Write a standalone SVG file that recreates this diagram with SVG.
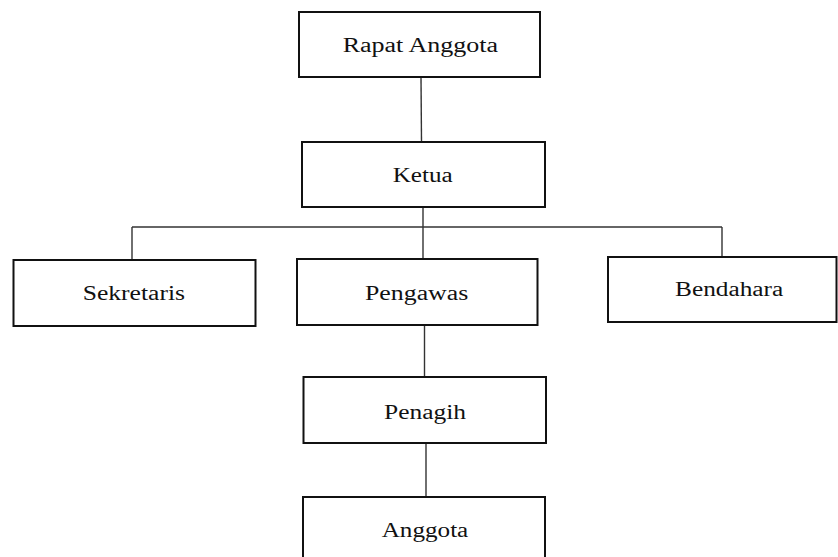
<svg xmlns="http://www.w3.org/2000/svg" width="838" height="557" viewBox="0 0 838 557">
<style>
.box{fill:#fff;stroke:#111;stroke-width:2}
.lbl{font-family:"Liberation Serif","Times New Roman",serif;font-size:20.5px;fill:#111;text-anchor:start}
.conn line{stroke:#333;stroke-width:1.4}
</style>
<rect width="838" height="557" fill="#fff"/>
<g id="connectors" class="conn">
<line x1="421" y1="77" x2="421.5" y2="142"/>
<line x1="423" y1="207" x2="423" y2="227"/>
<line x1="132" y1="227" x2="722" y2="227"/>
<line x1="132" y1="227" x2="132" y2="260"/>
<line x1="423" y1="227" x2="423" y2="259"/>
<line x1="722" y1="227" x2="722" y2="257"/>
<line x1="424.5" y1="325" x2="424.5" y2="377"/>
<line x1="426" y1="443" x2="426" y2="497"/>
</g>
<g id="rapat">
<rect class="box" x="299" y="12" width="241" height="65"/>
<text class="lbl" x="342.7" y="52" textLength="155.3" lengthAdjust="spacingAndGlyphs">Rapat Anggota</text>
</g>
<g id="ketua">
<rect class="box" x="302" y="142" width="243" height="65"/>
<text class="lbl" x="392.7" y="181.7" textLength="60" lengthAdjust="spacingAndGlyphs">Ketua</text>
</g>
<g id="sekretaris">
<rect class="box" x="13.5" y="260" width="242" height="66"/>
<text class="lbl" x="82.7" y="300" textLength="102.3" lengthAdjust="spacingAndGlyphs">Sekretaris</text>
</g>
<g id="pengawas">
<rect class="box" x="297" y="259" width="240.5" height="66"/>
<text class="lbl" x="365" y="300" textLength="103.3" lengthAdjust="spacingAndGlyphs">Pengawas</text>
</g>
<g id="bendahara">
<rect class="box" x="608" y="257" width="228.5" height="65"/>
<text class="lbl" x="675" y="296" textLength="108.3" lengthAdjust="spacingAndGlyphs">Bendahara</text>
</g>
<g id="penagih">
<rect class="box" x="303.5" y="377" width="242.5" height="66"/>
<text class="lbl" x="384" y="418.5" textLength="82" lengthAdjust="spacingAndGlyphs">Penagih</text>
</g>
<g id="anggota">
<rect class="box" x="303" y="497" width="242" height="70"/>
<text class="lbl" x="381.7" y="537" textLength="86.6" lengthAdjust="spacingAndGlyphs">Anggota</text>
</g>
</svg>
